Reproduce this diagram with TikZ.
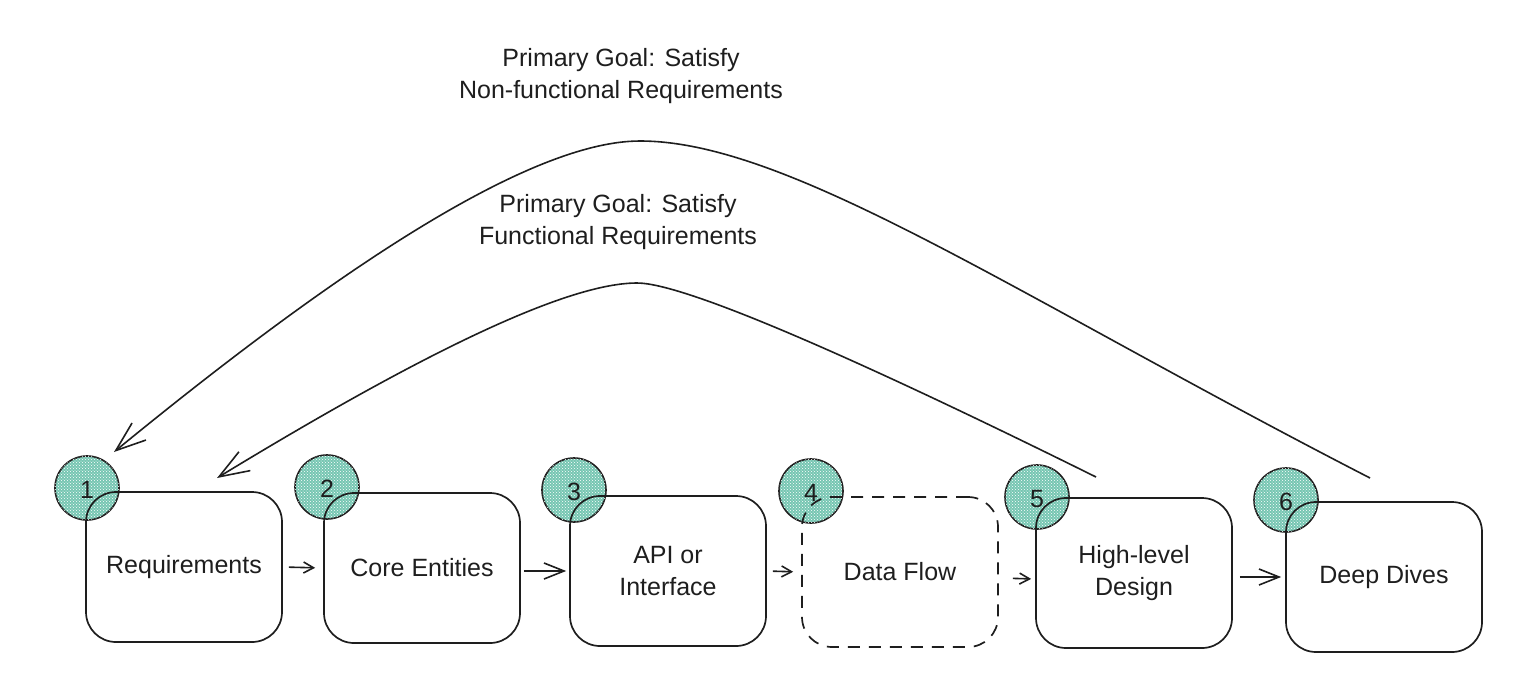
\documentclass[tikz,border=0pt]{standalone}
\usepackage{fontspec}
\setmainfont{Liberation Sans}
\usetikzlibrary{arrows.meta,patterns}
\definecolor{ink}{HTML}{1E1E1E}
\definecolor{tealfill}{RGB}{118,198,178}
\begin{document}
\begin{tikzpicture}[x=1pt,y=-1pt,
  txt/.style={text=ink, font=\fontsize{25}{32}\selectfont, align=center},
  box/.style={txt, draw=ink, line width=1.7pt, rounded corners=30pt,
    minimum width=196pt, minimum height=150pt, inner sep=0pt},
  dashbox/.style={box, dash pattern=on 12pt off 9pt},
  badge/.style={circle, draw=ink, line width=1.6pt, minimum size=64pt, inner sep=0pt,
    fill=tealfill, postaction={pattern=crosshatch dots, pattern color=white}},
  num/.style={txt, inner sep=0pt},
  link/.style={draw=ink, line width=1.6pt},
  bigtip/.style={-{Straight Barb[length=30pt,width=22pt]}},
  smalltip/.style={-{Straight Barb[length=10pt,width=11pt]}},
  midtip/.style={-{Straight Barb[length=20pt,width=16pt]}}
]
\useasboundingbox (0,0) rectangle (1536,689);

% badges (drawn first, boxes run over them)
\node[badge] (c1) at (87,488) {};
\node[badge] (c2) at (327,487) {};
\node[badge] (c3) at (574,490) {};
\node[badge] (c4) at (811,491) {};
\node[badge] (c5) at (1037,497) {};
\node[badge] (c6) at (1286,500) {};

% boxes
\node[box] (b1) at (184,567) {Requirements};
\node[box] (b2) at (422,568) {Core Entities};
\node[box] (b3) at (668,571) {API or\\Interface};
\node[dashbox] (b4) at (900,572) {Data Flow};
\node[box] (b5) at (1134,573) {High-level\\Design};
\node[box] (b6) at (1384,577) {Deep Dives};

% numbers
\node[num] (n1) at ([yshift=-2pt]c1) {1};
\node[num] (n2) at ([yshift=-2pt]c2) {2};
\node[num] (n3) at ([yshift=-2pt]c3) {3};
\node[num] (n4) at ([yshift=-2pt]c4) {4};
\node[num] (n5) at ([yshift=-2pt]c5) {5};
\node[num] (n6) at ([yshift=-2pt]c6) {6};

% step arrows
\draw[link, smalltip, shorten <=6pt, shorten >=8pt] (b1.east) -- (b2.west);
\draw[link, midtip, shorten <=3pt, shorten >=3pt] (b2.east |- b3.west) -- (b3.west);
\draw[link, smalltip, shorten <=6pt, shorten >=8pt] (b3.east) -- (b4.west);
\draw[link, smalltip, shorten <=14pt, shorten >=4pt] ([yshift=-6pt]b4.east) -- ([yshift=-6pt]b5.west);
\draw[link, midtip, shorten <=7pt, shorten >=4pt] (b5.east |- b6.west) -- (b6.west);

% feedback curves
\coordinate (s1) at (1370,478);
\coordinate (p1) at (640,141);
\coordinate (e1) at (114,452);
\draw[link, bigtip] (s1) .. controls (1016,296) and (790,141) .. (p1)
  .. controls (520,141) and (307,294) .. (e1);

\coordinate (s2) at (1096,477);
\coordinate (p2) at (637,283);
\coordinate (e2) at (217,478);
\draw[link, bigtip] (s2) .. controls (872,366) and (687,283) .. (p2)
  .. controls (557,283) and (388,374) .. (e2);

% labels
\node[txt] (g1) at (621,76) {Primary Goal: Satisfy\\Non-functional Requirements};
\node[txt] (g2) at (618,222) {Primary Goal: Satisfy\\Functional Requirements};
\end{tikzpicture}
\end{document}
